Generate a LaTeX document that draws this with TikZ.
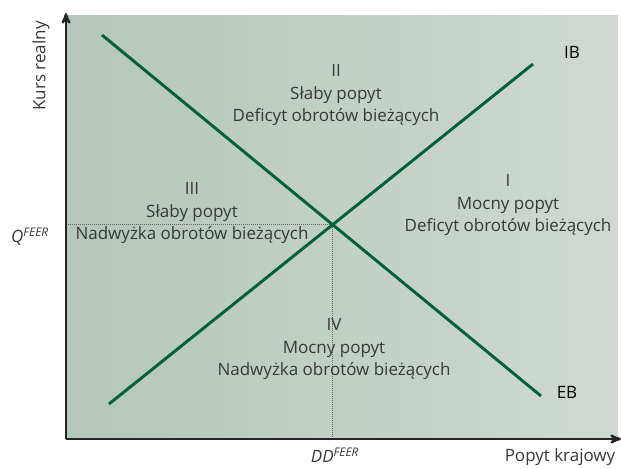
\documentclass[tikz,border=0pt]{standalone}
\usepackage{fontspec}
\setmainfont{Open Sans}
\usetikzlibrary{arrows}
\usetikzlibrary{positioning}
\definecolor{mgreen}{rgb}{0.0, 0.38, 0.23}
\definecolor{bgleft}{rgb}{0.71, 0.776, 0.729}
\definecolor{bgright}{rgb}{0.812, 0.851, 0.82}
\definecolor{mtext}{rgb}{0.22, 0.22, 0.22}
\tikzset{curve/.style = {mgreen, line width = 2.5pt}}
\tikzset{axis/.style = {line width = 2pt, black!85, -stealth'}}
\tikzset{quad/.style = {align = center, text = mtext, inner sep = 0,
                        font = \fontsize{14.5}{19.5}\selectfont}}
\tikzset{lbl/.style = {text = mtext, inner sep = 0, font = \fontsize{14.5}{17}\selectfont}}

\begin{document}
\begin{tikzpicture}[x = 0.03cm, y = -0.03cm]
    \useasboundingbox (0, 0) rectangle (621, 468);
    \shade [left color = bgleft, right color = bgright] (67, 15) rectangle (618, 439);

    \coordinate (O) at (66, 439);
    \coordinate (eba) at (102, 35);
    \coordinate (ebb) at (541, 396);
    \coordinate (iba) at (109, 404);
    \coordinate (ibb) at (533, 64);
    \coordinate (cross) at (intersection of eba--ebb and iba--ibb);

    \draw [densely dotted, black!60, line width = 0.7pt] (cross -| O) -- (cross) -- (cross |- O);
    \draw [curve] (eba) -- (ebb);
    \draw [curve] (iba) -- (ibb);

    \draw [axis] (O) -- (621, 439);
    \draw [axis] (O) -- (66, 13);

    \node [lbl, rotate = 90] (kurs) at (41, 66) {Kurs realny};
    \node [lbl] (popyt) at (560, 457) {Popyt krajowy};
    \node [lbl] (qfeer) at (30, 237) {\textit{Q\textsuperscript{FEER}}};
    \node [lbl] (ddfeer) at (335, 455) {\textit{DD\textsuperscript{FEER}}};
    \node [lbl, text = black] (ib) at (572, 52) {IB};
    \node [lbl, text = black] (eb) at (567, 392) {EB};

    \node [quad] (q2) at (336, 95) {II\\Słaby popyt\\Deficyt obrotów bieżących};
    \node [quad] (q1) at (508, 205) {I\\Mocny popyt\\Deficyt obrotów bieżących};
    \node [quad] (q3) at (192, 213) {III\\Słaby popyt\\Nadwyżka obrotów bieżących};
    \node [quad] (q4) at (334, 349) {IV\\Mocny popyt\\Nadwyżka obrotów bieżących};
  \end{tikzpicture}
\end{document}
